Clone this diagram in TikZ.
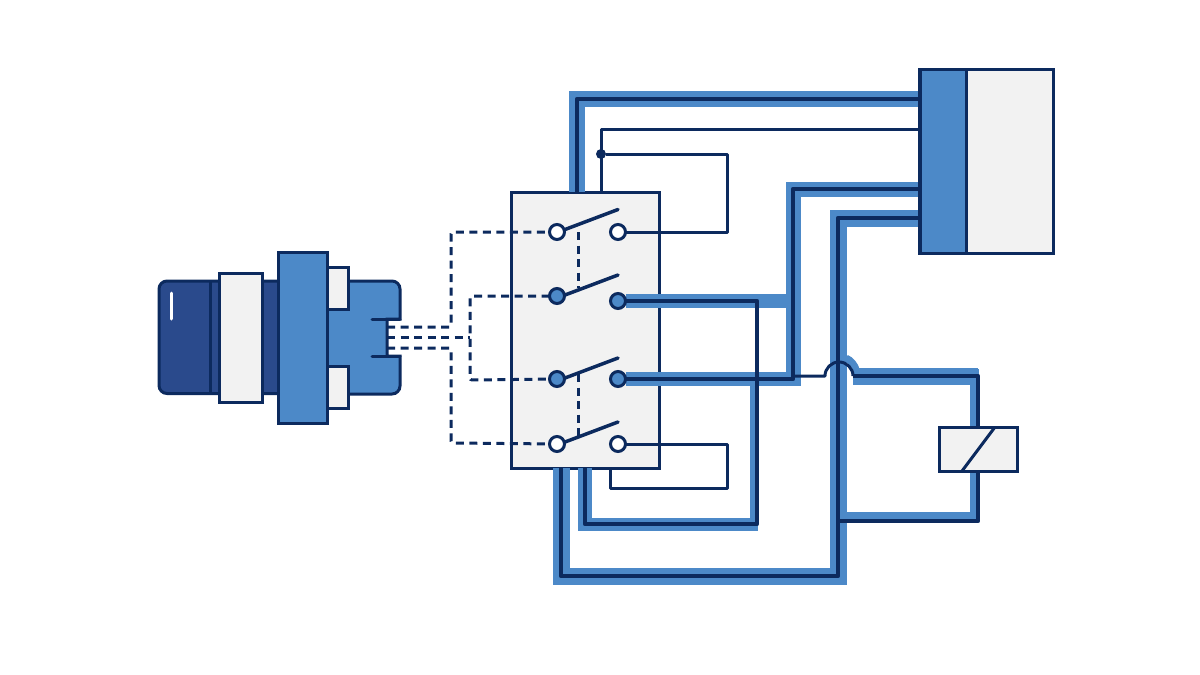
\documentclass[tikz,border=0pt]{standalone}
\usetikzlibrary{backgrounds}
\definecolor{navy}{HTML}{0C2A5E}
\definecolor{midblue}{HTML}{4C89C8}
\definecolor{deepblue}{HTML}{2A4A8C}
\definecolor{pale}{HTML}{F2F2F2}
\begin{document}
\begin{tikzpicture}[x=1pt,y=-1pt]
	\tikzset{
	outline/.style={draw=navy,line width=3pt,outer sep=0pt,inner sep=0pt},
	paneBox/.style={outline,rectangle,fill=pale},
	blueBox/.style={outline,rectangle,fill=midblue},
	terminal/.style={outline,circle,minimum size=15pt,fill=white},
	liveTerminal/.style={outline,circle,minimum size=15pt,fill=midblue},
	band/.style={midblue,line width=16pt},
	wire/.style={navy,line width=4.5pt,line join=round},
	thinwire/.style={navy,line width=3pt,line join=round},
	link/.style={navy,line width=3pt,dash pattern=on 8pt off 5.5pt,rounded corners=2pt},
	pics/lever/.style={code={
		\draw[navy,line width=3.5pt,line cap=round] (0,0) -- ++(53,-20);
		},
	},
	}
	\useasboundingbox (0,0) rectangle (1200,675);

	%PUSH BUTTON
	\draw[outline,fill=deepblue,rounded corners=8pt] (159,281) rectangle (290,393.5);
	\draw[navy,line width=3pt] (210,281) -- (210,393.5);
	\draw[white,line width=3pt,line cap=round] (171,293) -- (171,319);
	\draw[outline,fill=midblue] (327,281) [rounded corners=8pt] -- (400,281) -- (400,300) [sharp corners] -- (400,319) -- (387,319) -- (387,356) -- (400,356) [rounded corners=8pt] -- (400,394) -- (340,394) [sharp corners] -- (327,394) -- cycle;
	\draw[navy,line width=3pt,line cap=round] (372,319) -- (400,319) (372,356) -- (400,356);
	\node[paneBox,minimum width=43pt,minimum height=129pt] (collar) at (240.5,337.5) {};
	\node[paneBox,minimum width=21pt,minimum height=42pt] (clipA) at (337.5,288) {};
	\node[paneBox,minimum width=21pt,minimum height=42pt] (clipB) at (337.5,387) {};
	\node[blueBox,minimum width=49pt,minimum height=171pt] (flange) at (302.5,337.5) {};

	%TERMINALS
	\node[terminal] (l1) at (557,232) {};
	\node[terminal] (r1) at (618,232) {};
	\node[liveTerminal] (l2) at (557,296) {};
	\node[liveTerminal] (r2) at (618,301) {};
	\node[liveTerminal] (l3) at (557,379) {};
	\node[liveTerminal] (r3) at (618,379) {};
	\node[terminal] (l4) at (557,444) {};
	\node[terminal] (r4) at (618,444) {};
	\path (565,229.5) pic {lever};
	\path (565,295) pic {lever};
	\path (565,378) pic {lever};
	\path (565,442) pic {lever};

	%CONTACTOR
	\node[paneBox,minimum width=134pt,minimum height=184pt] (blockB) at (986,161) {};
	\node[blueBox,minimum width=46pt,minimum height=184pt] (blockA) at (943,161) {};
	%COIL
	\node[paneBox,minimum width=78pt,minimum height=44pt] (coil) at (978,449) {};
	\draw[navy,line width=3pt] (coil.north) ++(17,0) -- ([xshift=-16pt]coil.south);

	\begin{scope}[on background layer]
	\node[paneBox,minimum width=148pt,minimum height=276pt] (switch) at (585,330) {};

	%bands
	\draw[band] (577,192) -- (577,99) -- (blockA.west |- 0,99);
	\draw[band,line width=14pt] (r2) -- (793,301);
	\draw[band,line width=14pt] (r3) -- (800,379);
	\draw[band,line width=15pt] (793,386) -- (793,189) -- (blockA.west |- 0,189);
	\draw[band,line width=8pt] (754,379) -- (754,531);
	\draw[band,line width=13pt] (578,524.5) -- (758,524.5);
	\draw[band,line width=14pt] (585,468) -- (585,531);
	\draw[band,line width=17pt] (blockA.west |- 0,218.5) -- (838.5,218.5) -- (838.5,576) -- (561,576) -- (561,468);
	\draw[band,line width=17pt] (853,376.5) -- (978,376.5);
	\draw[band,line width=9pt] (974.5,369) -- (974.5,426);
	\draw[band,line width=9pt] (974.5,472) -- (974.5,520);
	\draw[band,line width=9pt] (847,516) -- (979,516);
	\draw[band,line width=7pt] (846,358) arc[start angle=-65,end angle=-15,radius=19];

	%thick wires
	\draw[wire] (577,192) -- (577,99) -- (blockA.west |- 0,99);
	\draw[wire] (r3) -- (793,379) -- (793,189) -- (blockA.west |- 0,189);
	\draw[wire] (r2) -- (757,301) -- (757,524) -- (585,524) -- (585,468);
	\draw[wire] (blockA.west |- 0,218) -- (838,218) -- (838,576) -- (561,576) -- (561,468);
	\draw[wire] (853,376) -- (978,376) -- (coil.north -| 978,0);
	\draw[wire] (coil.south -| 978,0) -- (978,521) -- (838,521);

	%thin wires
	\node[circle,fill=navy,minimum size=10pt,inner sep=0pt] (dot) at (601,154) {};
	\draw[thinwire] (r1) -- (727,232) -- (727,154) -- (dot);
	\draw[thinwire] (601,192) -- (601,129) -- (blockA.west |- 0,129);
	\draw[thinwire] (r4) -- (727,444) -- (727,488) -- (610,488) -- (610,468);
	\draw[thinwire] (793,376) -- (825,376) arc[start angle=180,end angle=360,radius=14] -- (853,376);

	%mechanical links
	\draw[link] (387,327) -- (451,327) -- (451,232) -- (l1);
	\draw[link] (387,337) -- (470,337);
	\draw[link] (l2) -- (470,296) -- (470,380) -- (l3);
	\draw[link] (387,348) -- (451,348) -- (451,443) -- (l4);
	\draw[link] (578,232) -- (578,288);
	\draw[link] (578,374) -- (578,436);
	\end{scope}
\end{tikzpicture}
\end{document}
